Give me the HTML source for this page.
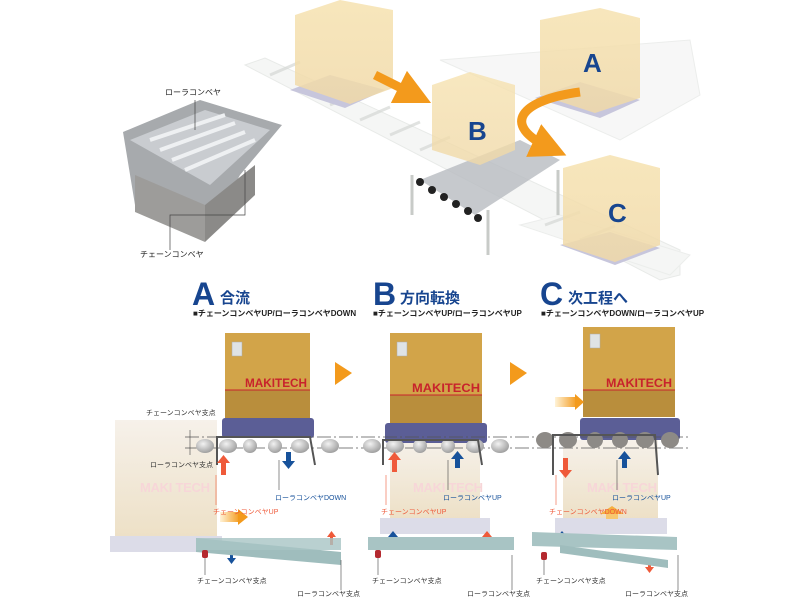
<!DOCTYPE html>
<html><head><meta charset="utf-8"><style>
body{margin:0;background:#fff;}
svg{display:block;font-family:"Liberation Sans","Noto Sans CJK JP",sans-serif;}
</style></head><body>
<svg width="800" height="600" viewBox="0 0 800 600" xmlns="http://www.w3.org/2000/svg">
<defs>
<linearGradient id="gbox" x1="0" y1="0" x2="0" y2="1"><stop offset="0" stop-color="#f6e2b0"/><stop offset="1" stop-color="#f0d9a8"/></linearGradient>
<linearGradient id="ghost" x1="0" y1="0" x2="0" y2="1"><stop offset="0" stop-color="#f6f1ea"/><stop offset="1" stop-color="#ede0c6"/></linearGradient>
<linearGradient id="oarr" x1="0" y1="0" x2="1" y2="0"><stop offset="0" stop-color="#fff3d8"/><stop offset="1" stop-color="#f39a1c"/></linearGradient>
<radialGradient id="roll" cx="0.4" cy="0.35" r="0.7"><stop offset="0" stop-color="#f2f2f2"/><stop offset="1" stop-color="#9a9a9a"/></radialGradient>
<marker id="ah" viewBox="0 0 10 10" refX="5" refY="5" markerWidth="4" markerHeight="4" orient="auto"><path d="M0,0L10,5L0,10z" fill="#f39a1c"/></marker>
</defs>

<!-- top conveyor -->
<g opacity="0.55">
<polygon points="245,65 265,58 680,250 680,275 660,280" fill="#eef0ee" stroke="#d6dad6"/>
<polygon points="440,60 690,40 700,95 620,140" fill="#f1f2f1" stroke="#dde0dd"/>
<polygon points="520,225 560,215 690,255 670,275" fill="#eef0ee" stroke="#dde0dd"/>
</g>
<g stroke="#d5d8d5" stroke-width="3" opacity="0.7">
<line x1="270" y1="75" x2="300" y2="62"/><line x1="300" y1="90" x2="330" y2="77"/><line x1="330" y1="105" x2="360" y2="92"/><line x1="360" y1="120" x2="390" y2="107"/><line x1="390" y1="135" x2="420" y2="122"/><line x1="420" y1="150" x2="450" y2="137"/><line x1="545" y1="225" x2="580" y2="212"/><line x1="580" y1="240" x2="615" y2="226"/><line x1="620" y1="258" x2="650" y2="245"/>
</g>
<g stroke="#c8cbc8" stroke-width="3"><line x1="412" y1="175" x2="412" y2="215"/><line x1="488" y1="210" x2="488" y2="255"/><line x1="558" y1="170" x2="558" y2="215"/></g>
<polygon points="420,180 520,140 560,160 475,215" fill="#b8bcc0" opacity="0.8"/>
<g fill="#222"><circle cx="420" cy="182" r="4"/><circle cx="432" cy="190" r="4"/><circle cx="444" cy="197" r="4"/><circle cx="456" cy="204" r="4"/><circle cx="468" cy="211" r="4"/><circle cx="478" cy="218" r="4"/></g>
<polygon points="290,90 330,75 385,90 345,108" fill="#c7c6dc"/>
<polygon points="295,15 340,0 393,10 393,88 350,104 295,85" fill="url(#gbox)" opacity="0.85"/>
<polygon points="535,98 580,82 640,100 600,118" fill="#c7c6dc"/>
<polygon points="540,20 600,8 640,18 640,98 595,113 540,95" fill="url(#gbox)" opacity="0.85"/>
<polygon points="432,85 470,72 515,85 515,150 480,165 432,150" fill="url(#gbox)" opacity="0.8"/>
<polygon points="560,245 610,232 660,248 615,265" fill="#c7c6dc"/>
<polygon points="563,168 610,155 660,168 660,245 615,262 563,245" fill="url(#gbox)" opacity="0.85"/>
<text x="583" y="72" font-size="26" font-weight="bold" fill="#17458f">A</text>
<text x="468" y="140" font-size="26" font-weight="bold" fill="#17458f">B</text>
<text x="608" y="222" font-size="26" font-weight="bold" fill="#17458f">C</text>
<path d="M375,75 L415,95" stroke="#f39a1c" stroke-width="9" fill="none" marker-end="url(#ah)"/>
<path d="M580,92 C520,100 500,125 550,148" stroke="#f39a1c" stroke-width="9" fill="none" marker-end="url(#ah)"/>

<!-- left machine -->
<polygon points="123,132 200,100 282,125 240,175 205,240 135,205" fill="#a7aaad"/>
<polygon points="130,140 205,110 270,130 210,185" fill="#c9ccd0"/>
<g stroke="#eef0f2" stroke-width="4"><line x1="150" y1="140" x2="225" y2="115"/><line x1="160" y1="150" x2="235" y2="123"/><line x1="172" y1="160" x2="245" y2="132"/><line x1="185" y1="170" x2="255" y2="140"/></g>
<polygon points="135,175 205,205 205,242 135,212" fill="#9d9c9a"/>
<polygon points="205,205 255,165 255,195 205,242" fill="#8b8a88"/>
<text x="165" y="95" font-size="8" fill="#222">ローラコンベヤ</text>
<text x="140" y="257" font-size="8" fill="#222">チェーンコンベヤ</text>
<line x1="195" y1="100" x2="195" y2="130" stroke="#444" stroke-width="0.7"/>
<polyline points="170,250 170,215 245,215 245,170" stroke="#444" stroke-width="0.7" fill="none"/>

<!-- headers -->
<g fill="#17458f" font-weight="bold">
<text x="192" y="305" font-size="32">A</text><text x="220" y="303" font-size="15">合流</text>
<text x="373" y="305" font-size="32">B</text><text x="400" y="303" font-size="15">方向転換</text>
<text x="540" y="305" font-size="32">C</text><text x="568" y="303" font-size="15">次工程へ</text>
</g>
<g font-size="8" font-weight="bold" fill="#222">
<text x="193" y="316">■チェーンコンベヤUP/ローラコンベヤDOWN</text>
<text x="373" y="316">■チェーンコンベヤUP/ローラコンベヤUP</text>
<text x="541" y="316">■チェーンコンベヤDOWN/ローラコンベヤUP</text>
</g>

<!-- ghost boxes -->
<rect x="115" y="420" width="102" height="118" fill="url(#ghost)"/>
<rect x="110" y="536" width="112" height="16" fill="#dcdce8"/>
<rect x="390" y="440" width="90" height="80" fill="url(#ghost)"/>
<rect x="380" y="518" width="110" height="16" fill="#dcdce8"/>
<rect x="563" y="440" width="95" height="80" fill="url(#ghost)"/>
<rect x="555" y="518" width="112" height="16" fill="#dcdce8"/>
<g font-size="13" font-weight="bold" fill="#f7d6d8"><text x="140" y="492" textLength="70">MAKI TECH</text><text x="413" y="492" textLength="70">MAKI TECH</text><text x="587" y="492" textLength="70">MAKI TECH</text></g>

<!-- main boxes -->
<rect x="225" y="333" width="85" height="57" fill="#d2a449"/><rect x="225" y="390" width="85" height="28" fill="#b98e3c"/><line x1="225" y1="390" x2="310" y2="390" stroke="#c8232c" stroke-width="1"/>
<rect x="390" y="333" width="92" height="62" fill="#d2a449"/><rect x="390" y="395" width="92" height="28" fill="#b98e3c"/><line x1="390" y1="395" x2="482" y2="395" stroke="#c8232c"/>
<rect x="583" y="327" width="92" height="63" fill="#d2a449"/><rect x="583" y="390" width="92" height="27" fill="#b98e3c"/><line x1="583" y1="390" x2="675" y2="390" stroke="#c8232c"/>
<g fill="#dfe3e5" stroke="#aaa" stroke-width="0.5"><rect x="232" y="342" width="10" height="14"/><rect x="397" y="342" width="10" height="14"/><rect x="590" y="334" width="10" height="14"/></g>
<g fill="#c8232c" font-size="12" font-weight="bold"><text x="245" y="387" textLength="62" lengthAdjust="spacingAndGlyphs">MAKITECH</text><text x="412" y="392" textLength="68" lengthAdjust="spacingAndGlyphs">MAKITECH</text><text x="606" y="387" textLength="66" lengthAdjust="spacingAndGlyphs">MAKITECH</text></g>
<g fill="#f39a1c"><polygon points="335,362 352,373 335,385"/><polygon points="510,362 527,373 510,385"/></g>
<rect x="555" y="397" width="22" height="10" fill="url(#oarr)"/><polygon points="575,394 584,402 575,410" fill="#f39a1c"/>
<rect x="220" y="512" width="20" height="10" fill="url(#oarr)"/><polygon points="238,509 248,517 238,525" fill="#f39a1c"/>
<polygon points="600,514 612,506 624,514" fill="#f5b040"/><rect x="606" y="514" width="12" height="5" fill="#f7c770"/>

<!-- pallets -->
<rect x="222" y="418" width="92" height="20" rx="3" fill="#5b5e96"/>
<rect x="385" y="423" width="102" height="20" rx="3" fill="#5b5e96"/>
<rect x="580" y="418" width="100" height="22" rx="3" fill="#5b5e96"/>

<g stroke="#555" stroke-width="0.7" stroke-dasharray="14,3,2,3"><line x1="185" y1="437" x2="690" y2="437"/><line x1="185" y1="448" x2="690" y2="448"/></g>
<line x1="190" y1="430" x2="190" y2="455" stroke="#444" stroke-width="0.6"/>

<g fill="url(#roll)">
<ellipse cx="205" cy="446" rx="9" ry="7"/><ellipse cx="228" cy="446" rx="9" ry="7"/><ellipse cx="250" cy="446" rx="7" ry="7"/><ellipse cx="275" cy="446" rx="7" ry="7"/><ellipse cx="300" cy="446" rx="9" ry="7"/><ellipse cx="330" cy="446" rx="9" ry="7"/>
<ellipse cx="372" cy="446" rx="9" ry="7"/><ellipse cx="395" cy="446" rx="9" ry="7"/><ellipse cx="420" cy="446" rx="7" ry="7"/><ellipse cx="448" cy="446" rx="7" ry="7"/><ellipse cx="475" cy="446" rx="9" ry="7"/><ellipse cx="500" cy="446" rx="9" ry="7"/>
</g>
<g fill="#8d8a86"><ellipse cx="545" cy="440" rx="9" ry="8"/><ellipse cx="568" cy="440" rx="9" ry="8"/><ellipse cx="595" cy="440" rx="8" ry="8"/><ellipse cx="620" cy="440" rx="8" ry="8"/><ellipse cx="645" cy="440" rx="9" ry="8"/><ellipse cx="670" cy="440" rx="9" ry="8"/></g>
<g stroke="#555" stroke-width="2" fill="none"><polyline points="217,465 217,437 310,437 315,465"/><polyline points="383,465 383,440 478,440 482,465"/><polyline points="553,475 553,435 655,435 658,475"/></g>

<g fill="#ef5a3a"><path d="M221,475h5v-12h4l-6.5,-8l-6.5,8h4z"/><path d="M392,472h5v-12h4l-6.5,-8l-6.5,8h4z"/><path d="M563,458h5v12h4l-6.5,8l-6.5,-8h4z"/><path d="M330,545h3v-8h3l-4.5,-6l-4.5,6h3z"/><path d="M485,545h4v-8h3l-5,-6l-5,6h3z"/><path d="M648,560h3v7h3l-4.5,6l-4.5,-6h3z"/></g>
<g fill="#17529b"><path d="M286,452h5v9h4l-6.5,8l-6.5,-8h4z"/><path d="M455,468h5v-9h4l-6.5,-8l-6.5,8h4z"/><path d="M622,468h5v-9h4l-6.5,-8l-6.5,8h4z"/><path d="M230,550h3v8h3l-4.5,6l-4.5,-6h3z"/><path d="M391,545h4v-8h3l-5,-6l-5,6h3z"/><path d="M560,545h4v-8h3l-5,-6l-5,6h3z"/></g>

<polygon points="196,538 341,552 341,565 196,552" fill="#9fbdbd"/>
<rect x="196" y="538" width="145" height="12" fill="#a8c4c4" opacity="0.8"/>
<rect x="368" y="537" width="146" height="13" fill="#a8c4c4"/>
<polygon points="532,532 677,537 677,550 532,546" fill="#a8c4c4"/><polygon points="560,545 668,560 668,568 560,553" fill="#9fbdbd"/>
<g fill="#b4292f"><rect x="202" y="550" width="6" height="8" rx="2"/><rect x="375" y="550" width="6" height="8" rx="2"/><rect x="541" y="552" width="6" height="8" rx="2"/></g>

<g stroke="#444" stroke-width="0.6">
<line x1="205" y1="558" x2="205" y2="575"/><line x1="341" y1="560" x2="341" y2="590"/><line x1="378" y1="558" x2="378" y2="575"/><line x1="512" y1="555" x2="512" y2="590"/><line x1="544" y1="560" x2="544" y2="575"/><line x1="678" y1="555" x2="678" y2="590"/>
<line x1="279" y1="460" x2="279" y2="490"/><line x1="448" y1="460" x2="448" y2="490"/><line x1="617" y1="460" x2="617" y2="490"/>
</g>
<g stroke="#ef5a3a" stroke-width="0.6"><line x1="216" y1="475" x2="216" y2="505"/><line x1="386" y1="475" x2="386" y2="505"/><line x1="556" y1="475" x2="556" y2="505"/></g>

<g font-size="7" fill="#333">
<text x="146" y="415">チェーンコンベヤ支点</text><text x="150" y="467">ローラコンベヤ支点</text>
<text x="197" y="583">チェーンコンベヤ支点</text><text x="297" y="596">ローラコンベヤ支点</text>
<text x="372" y="583">チェーンコンベヤ支点</text><text x="467" y="596">ローラコンベヤ支点</text>
<text x="536" y="583">チェーンコンベヤ支点</text><text x="625" y="596">ローラコンベヤ支点</text>
</g>
<g font-size="7" fill="#17529b"><text x="275" y="500">ローラコンベヤDOWN</text><text x="443" y="500">ローラコンベヤUP</text><text x="612" y="500">ローラコンベヤUP</text></g>
<g font-size="7" fill="#ef5a3a"><text x="213" y="514">チェーンコンベヤUP</text><text x="381" y="514">チェーンコンベヤUP</text><text x="549" y="514">チェーンコンベヤDOWN</text></g>
</svg>
</body></html>
